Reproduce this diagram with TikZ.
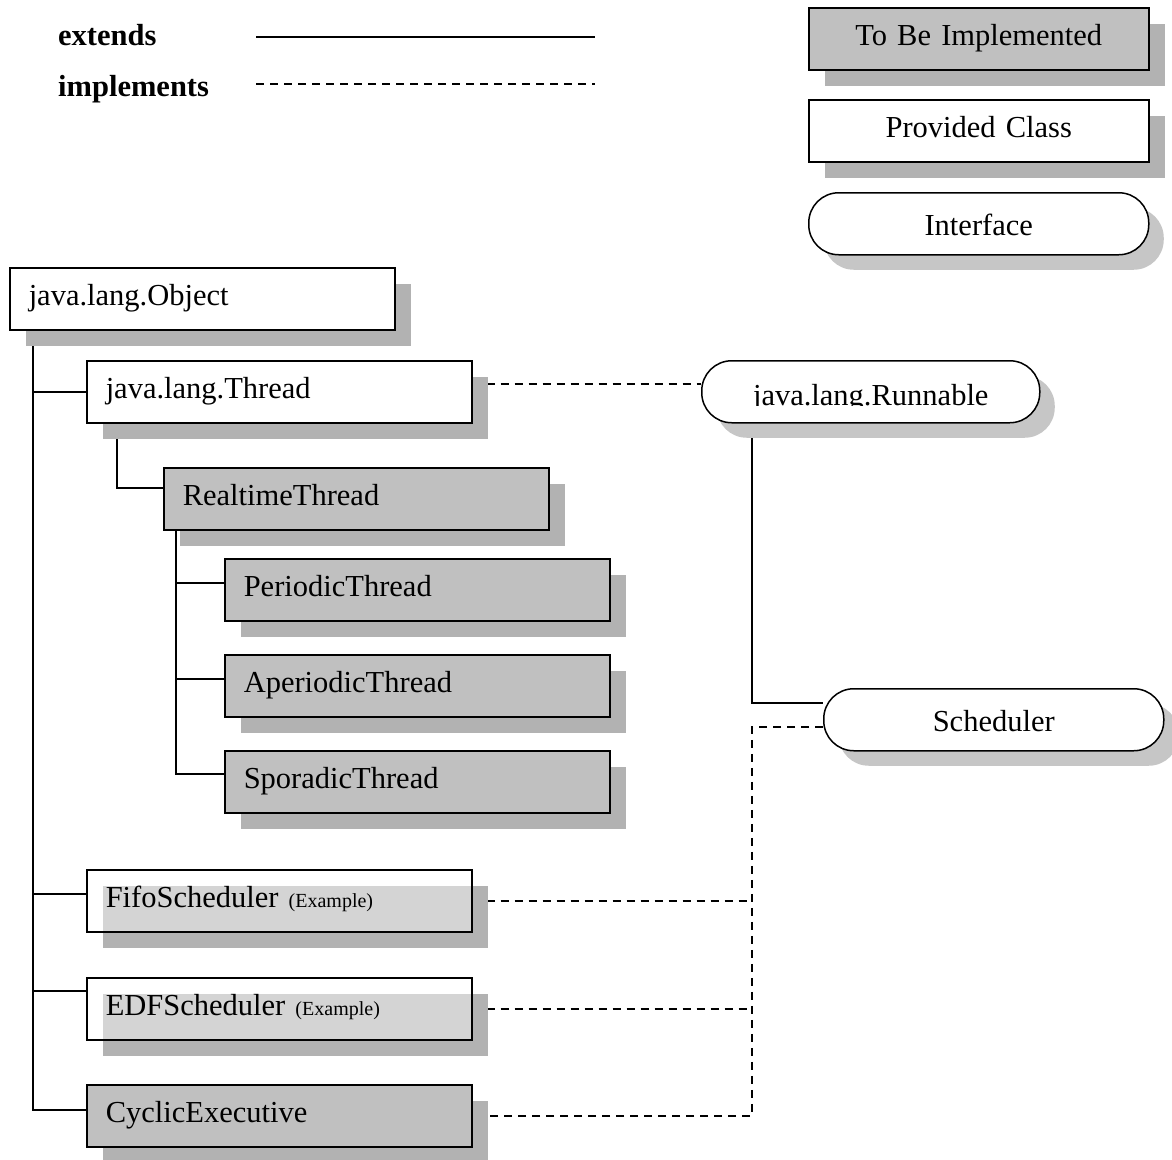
\documentclass[tikz,border=0pt]{standalone}
\usepackage{fontspec}
\setmainfont{Liberation Serif}
\usetikzlibrary{positioning, shadows, backgrounds}

\definecolor{todogrey}{RGB}{192,192,192}
\definecolor{shadowgrey}{RGB}{178,178,178}
\definecolor{texgrey}{RGB}{198,198,198}
\definecolor{innergrey}{RGB}{212,212,212}

\newcommand{\boxfont}{\fontsize{30.5}{36}\selectfont}

\tikzset{
  classbox/.style={draw, line width=1.5pt, fill=white, anchor=north west,
    minimum height=62pt, text width=347pt, inner xsep=19pt, inner ysep=0pt,
    align=left, text height=21pt, text depth=7pt, font=\boxfont,
    drop shadow={shadow xshift=16pt, shadow yshift=-16pt, fill=shadowgrey, opacity=1}},
  todobox/.style={classbox, fill=todogrey},
  examplebox/.style={classbox,
    path picture={\fill[innergrey] ([shift={(16pt,-16pt)}]path picture bounding box.north west)
      rectangle (path picture bounding box.south east);}},
  legendbox/.style={classbox, text width=340pt, inner xsep=0pt, align=center},
  pill/.style={draw, line width=1.5pt, fill=white, anchor=north west, rounded corners=30pt,
    minimum width=340pt, minimum height=62pt, inner sep=0pt,
    text height=26pt, text depth=2pt, font=\boxfont,
    drop shadow={shadow xshift=15pt, shadow yshift=-15pt, fill=texgrey, opacity=1}},
  keytext/.style={anchor=base west, inner sep=0pt, font=\boxfont\bfseries},
  extline/.style={line width=1.5pt},
  implline/.style={line width=1.5pt, dash pattern=on 8pt off 6pt}
}

\begin{document}
\begin{tikzpicture}[x=1pt, y=-1pt]
  \useasboundingbox (0,0) rectangle (1172,1159);

  % key
  \node[keytext] (extkey) at (58,45) {extends};
  \node[keytext] (implkey) at (58,96) {implements};
  \coordinate (extA) at (256,37);
  \coordinate (extB) at (595,37);
  \coordinate (implA) at (256,84);
  \coordinate (implB) at (595,84);
  \draw[extline] (extA) -- (extB);
  \draw[implline] (implA) -- (implB);

  \node[legendbox, fill=todogrey] (todokey) at (808,7) {To Be Implemented};
  \node[legendbox] (provkey) at (808,99) {Provided Class};
  \node[pill] (ifacekey) at (808,192) {Interface};

  % classes
  \node[classbox] (object) at (9,267) {java.lang.Object};
  \node[classbox] (thread) at (86,360) {java.lang.Thread};
  \node[todobox] (rtthread) at (163,467) {RealtimeThread};
  \node[todobox] (periodic) at (224,558) {PeriodicThread};
  \node[todobox] (aperiodic) at (224,654) {AperiodicThread};
  \node[todobox] (sporadic) at (224,750) {SporadicThread};
  \node[examplebox] (fifo) at (86,869) {FifoScheduler {\fontsize{20}{24}\selectfont (Example)}};
  \node[examplebox] (edf) at (86,977) {EDFScheduler {\fontsize{20}{24}\selectfont (Example)}};
  \node[todobox] (cyclic) at (86,1084) {CyclicExecutive};

  % interfaces
  \node[pill, minimum width=338pt] (runnable) at (701,360) {};
  \begin{scope}
    \clip (runnable.north west) rectangle ([yshift=-14pt]runnable.east);
    \node[anchor=base, inner sep=0pt, font=\boxfont] (runnlabel)
      at ([yshift=-14pt]runnable.center) {java.lang.Runnable};
  \end{scope}
  \node[pill] (scheduler) at (823,688) {Scheduler};

  \coordinate (junction) at ([xshift=51pt]runnable.south west);

  \begin{scope}[on background layer]
    % extends
    \draw[extline] ([xshift=24pt]object.south west) |- ([yshift=6pt]cyclic.west);
    \draw[extline] ([xshift=24pt]object.south west |- thread.west) -- (thread.west);
    \draw[extline] ([xshift=24pt]object.south west |- fifo.west) ++(0,-7) -- ([yshift=7pt]fifo.west);
    \draw[extline] ([xshift=24pt]object.south west |- edf.west) ++(0,-18) -- ([yshift=18pt]edf.west);
    \draw[extline] ([xshift=31pt]thread.south west) |- ([yshift=11pt]rtthread.west);
    \draw[extline] ([xshift=13pt]rtthread.south west) |- ([yshift=8pt]sporadic.west);
    \draw[extline] ([xshift=13pt]rtthread.south west |- periodic.west) ++(0,-7) -- ([yshift=7pt]periodic.west);
    \draw[extline] ([xshift=13pt]rtthread.south west |- aperiodic.west) ++(0,-7) -- ([yshift=7pt]aperiodic.west);
    \draw[extline] (junction) |- ([yshift=17pt]scheduler.west);
    % implements
    \draw[implline] ([yshift=8pt]thread.east) -- ([yshift=8pt]runnable.west);
    \draw[implline] ([yshift=-7pt]scheduler.west) -| (junction |- cyclic.east) -- (cyclic.east);
    \draw[implline] (fifo.east) -- (junction |- fifo.east);
    \draw[implline] (edf.east) -- (junction |- edf.east);
  \end{scope}
\end{tikzpicture}
\end{document}
